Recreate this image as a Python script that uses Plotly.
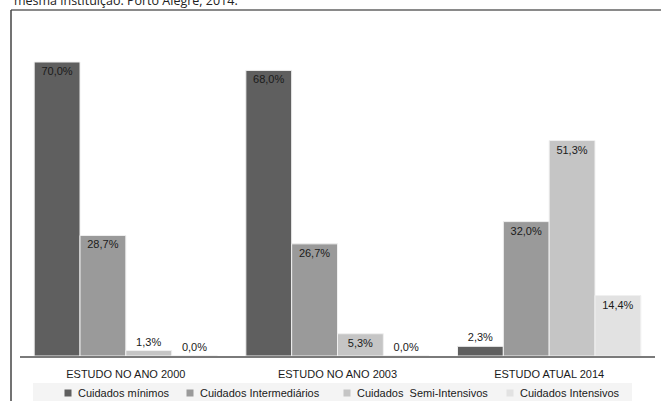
import plotly.graph_objects as go

W, H = 661, 401
categories = ["ESTUDO NO ANO 2000", "ESTUDO NO ANO 2003", "ESTUDO ATUAL 2014"]
series_names = ["Cuidados mínimos", "Cuidados Intermediários",
                "Cuidados\u00a0\u00a0Semi-Intensivos", "Cuidados Intensivos"]
minimos = [70.0, 68.0, 2.3]
intermediarios = [28.7, 26.7, 32.0]
semi_intensivos = [1.3, 5.3, 51.3]
intensivos = [0.0, 0.0, 14.4]
colors = ["#5f5f5f", "#9a9a9a", "#c5c5c5", "#e2e2e2"]

ML, MR, MT, MB = 20, 6, 41, 45
PW = W - ML - MR
PH = H - MT - MB


def px(x):
    return (x - ML) / PW


def py(y):
    return (H - MB - y) / PH


def fmt(v):
    return f"{v:.1f}%".replace(".", ",")


fig = go.Figure()
for name, vals, col in zip(series_names,
                           [minimos, intermediarios, semi_intensivos, intensivos],
                           colors):
    pos = ["inside" if v > 4 else "outside" for v in vals]
    fig.add_trace(go.Bar(
        x=categories, y=vals, name=name, showlegend=False,
        marker=dict(color=col, line=dict(color="#f0f0f0", width=1)),
        text=[fmt(v) for v in vals], textposition=pos,
        insidetextanchor="end", constraintext="none", cliponaxis=False,
        textfont=dict(family="Liberation Sans, Arial", size=11, color="#1a1a1a"),
    ))

# custom legend (square swatch + label) laid out like the reference
legend_x = [68, 190, 347, 510]
legend_y = 393
shapes = [
    dict(type="rect", xref="paper", yref="paper", x0=px(33), x1=px(632),
         y0=py(401), y1=py(383), fillcolor="#f4f4f4", line=dict(width=0),
         layer="below"),
    dict(type="line", xref="paper", yref="paper", x0=px(11), x1=px(661),
         y0=py(10), y1=py(10), line=dict(color="#8a8a8a", width=2)),
    dict(type="line", xref="paper", yref="paper", x0=px(11), x1=px(11),
         y0=py(10), y1=py(401), line=dict(color="#444", width=1.5)),
]
annotations = [
    dict(text="mesma instituição. Porto Alegre, 2014.", xref="paper",
         yref="paper", x=px(12), y=py(11), xanchor="left", yanchor="bottom",
         showarrow=False, font=dict(family="Open Sans", size=12.5, color="#222")),
]
for lx, name, col in zip(legend_x, series_names, colors):
    shapes.append(dict(type="rect", xref="paper", yref="paper",
                       x0=px(lx - 3.5), x1=px(lx + 3.5),
                       y0=py(legend_y + 3.5), y1=py(legend_y - 3.5),
                       fillcolor=col, line=dict(width=0)))
    annotations.append(dict(text=name, xref="paper", yref="paper",
                            x=px(lx + 8), y=py(legend_y), xanchor="left",
                            yanchor="middle", showarrow=False,
                            font=dict(family="Liberation Sans, Arial", size=11,
                                      color="#1a1a1a")))

fig.update_layout(
    width=W, height=H,
    margin=dict(l=ML, r=MR, t=MT, b=MB),
    paper_bgcolor="white", plot_bgcolor="white",
    barmode="group", bargap=0.134, bargroupgap=0,
    font=dict(family="Liberation Sans, Arial", size=11, color="#1a1a1a"),
    xaxis=dict(showline=True, linecolor="#7a7a7a", linewidth=2,
               ticks="", showgrid=False, ticklabelstandoff=7,
               tickfont=dict(size=11, color="#1a1a1a")),
    yaxis=dict(range=[0, 75], visible=False, showgrid=False),
    showlegend=False,
    shapes=shapes,
    annotations=annotations,
)

fig.write_html("out.html")
